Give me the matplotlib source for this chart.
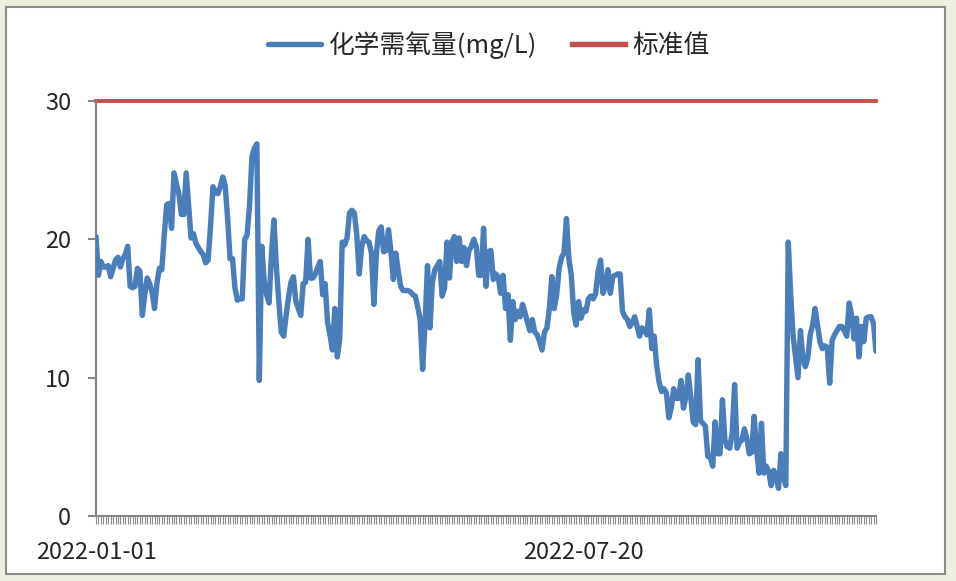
import numpy as np
import pandas as pd
import matplotlib
matplotlib.use('Agg')
import matplotlib.pyplot as plt
from matplotlib.patches import Rectangle

plt.rcParams['font.family'] = ['Noto Sans CJK SC', 'DejaVu Sans']

# daily COD readings (mg/L), starting 2022-01-01
cod = [
    20.2, 17.4, 18.4, 18.0, 18.0, 18.1, 17.3, 17.9, 18.5, 18.7,
    18.0, 18.6, 18.9, 19.5, 16.6, 16.5, 16.6, 17.9, 17.7, 14.5,
    16.0, 17.2, 16.8, 16.2, 15.0, 16.8, 17.9, 17.8, 20.3, 22.5,
    22.6, 20.8, 24.8, 24.0, 23.3, 21.8, 21.8, 24.8, 22.5, 20.1,
    20.4, 19.7, 19.4, 19.1, 18.9, 18.3, 18.5, 21.0, 23.8, 23.4,
    23.3, 23.8, 24.5, 23.9, 21.5, 18.6, 18.6, 16.5, 15.6, 15.7,
    15.7, 20.0, 20.3, 22.5, 26.0, 26.6, 26.9, 9.8, 19.5, 17.0,
    16.0, 15.4, 19.0, 21.4, 18.0, 15.5, 13.3, 13.0, 14.5, 15.8,
    16.9, 17.3, 15.5, 15.0, 14.5, 16.8, 16.9, 20.0, 17.2, 17.2,
    17.5, 18.0, 18.4, 16.0, 16.8, 14.0, 13.1, 12.0, 15.0, 11.5,
    12.8, 19.8, 19.6, 20.1, 21.9, 22.1, 21.9, 20.3, 17.5, 19.5,
    20.2, 19.9, 19.8, 19.0, 15.3, 18.9, 20.6, 20.9, 19.1, 19.2,
    20.7, 19.1, 17.1, 19.0, 17.7, 16.6, 16.3, 16.3, 16.3, 16.2,
    16.0, 15.9, 15.1, 14.2, 10.6, 14.0, 18.1, 13.6, 16.9, 17.8,
    18.1, 18.4, 15.9, 16.5, 19.8, 17.2, 19.8, 20.2, 18.4, 20.1,
    18.4, 19.4, 18.1, 19.2, 19.5, 20.0, 19.5, 17.4, 17.4, 20.8,
    16.6, 19.1, 19.2, 17.1, 17.5, 17.3, 16.1, 17.4, 15.0, 16.0,
    12.7, 15.5, 14.2, 14.8, 14.4, 15.3, 14.7, 14.0, 13.4, 14.2,
    13.3, 13.1, 12.6, 12.0, 13.3, 13.6, 15.0, 17.3, 15.0, 16.0,
    17.9, 18.7, 19.0, 21.5, 18.6, 17.4, 14.7, 13.8, 15.5, 14.3,
    14.9, 14.8, 15.7, 15.9, 15.7, 16.1, 17.7, 18.5, 16.1, 16.6,
    17.8, 16.1, 17.3, 17.4, 17.5, 17.5, 14.8, 14.4, 14.2, 13.7,
    14.0, 14.4, 13.7, 13.0, 13.6, 13.4, 13.1, 14.9, 12.1, 13.0,
    10.9, 9.7, 9.0, 9.2, 8.9, 7.1, 7.8, 9.2, 8.5, 8.5,
    9.8, 7.8, 8.6, 10.2, 8.6, 6.8, 6.6, 11.3, 6.9, 6.7,
    6.5, 4.3, 4.3, 3.6, 6.8, 4.5, 4.5, 8.4, 5.5, 5.0,
    4.9, 6.0, 9.5, 4.9, 5.3, 5.5, 6.3, 5.6, 4.5, 4.6,
    7.2, 4.8, 3.1, 6.7, 3.1, 3.6, 3.2, 2.2, 3.3, 2.8,
    2.0, 4.5, 2.8, 2.2, 19.8, 16.0, 13.0, 11.5, 10.0, 13.4,
    11.4, 10.8, 11.4, 13.1, 13.8, 15.0, 13.8, 12.6, 12.1, 12.3,
    12.2, 9.6, 12.7, 13.1, 13.4, 13.7, 13.7, 13.4, 13.0, 15.4,
    14.5, 12.8, 14.3, 11.5, 13.7, 12.6, 14.3, 14.4, 14.4, 13.9,
    11.9,
]
standard = 30
start_date = '2022-01-01'
label_dates = ['2022-01-01', '2022-07-20']
y_ticks = [0, 10, 20, 30]

dates = pd.date_range(start_date, periods=len(cod))
x = np.arange(len(cod))
std_line = [standard] * len(cod)

W, H = 956, 581
fig = plt.figure(figsize=(W / 100, H / 100), dpi=100)
fig.patch.set_facecolor('#EBF1DE')
# white chart area with grey frame, kept behind the axes
fig.patches.append(Rectangle((6 / W, 1 - 574 / H), 939 / W, 567 / H,
                             transform=fig.transFigure, facecolor='white',
                             edgecolor='#8C8C8C', lw=1.5, zorder=-1))

ax = fig.add_axes([96 / W, 1 - 516 / H, 780 / W, 415 / H])
ax.patch.set_alpha(0)

ax.plot(x, cod, color='#4A7EBB', lw=3.9, label='化学需氧量(mg/L)',
        solid_joinstyle='round', solid_capstyle='round', zorder=3)
ax.plot(x, std_line, color='#C0504D', lw=2.8, label='标准值',
        clip_on=False, zorder=2)

ax.set_xlim(0, len(cod) - 1)
ax.set_ylim(0, 30)

for s in ['top', 'right']:
    ax.spines[s].set_visible(False)
for s in ['left', 'bottom']:
    ax.spines[s].set_color('#868686')
    ax.spines[s].set_linewidth(1.5)

ax.set_yticks(y_ticks)
ax.set_yticklabels([str(v) for v in y_ticks])
lab_pos = [(pd.Timestamp(d) - dates[0]).days for d in label_dates]
ax.set_xticks(lab_pos)
ax.set_xticklabels(label_dates)
ax.set_xticks(x, minor=True)

ax.tick_params(axis='y', direction='out', length=6, width=1.5,
               color='#868686', labelsize=17, labelcolor='#262626', pad=12)
ax.tick_params(axis='x', which='both', direction='out', length=6,
               width=0.8, color='#8C8C8C')
ax.tick_params(axis='x', which='major', labelsize=17,
               labelcolor='#262626', pad=12)

leg = fig.legend(loc='center', bbox_to_anchor=(489 / W, 1 - 45 / H), ncol=2,
                 frameon=False, fontsize=18.5, handlelength=2.05,
                 handletextpad=0.3, columnspacing=1.35, labelcolor='#262626')
for h in leg.legend_handles:
    h.set_linewidth(3.9)

fig.savefig('out.png', dpi=100, facecolor=fig.get_facecolor())
